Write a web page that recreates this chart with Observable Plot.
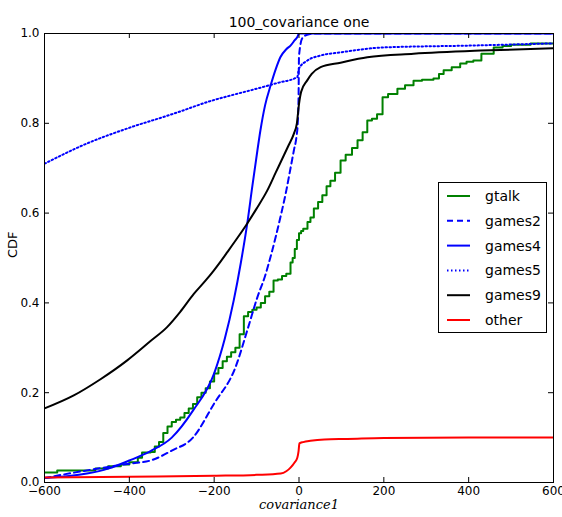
<!DOCTYPE html>
<html>
<head>
<meta charset="utf-8">
<script src="https://cdn.jsdelivr.net/npm/d3@7"></script>
<script src="https://cdn.jsdelivr.net/npm/@observablehq/plot@0.6"></script>
<style>
  body { margin: 0; background: #fff; }
  #wrap { position: relative; width: 562px; height: 517px; }
  #wrap svg { position: absolute; left: 0; top: 0; }
</style>
</head>
<body>
<div id="wrap"></div>
<script>
const title = "100_covariance one";
const xLabel = "covariance1";
const yLabel = "CDF";
const xTicks = [-600, -400, -200, 0, 200, 400, 600];
const yTicks = [0, 0.2, 0.4, 0.6, 0.8, 1.0];

const seriesNames = ["gtalk", "games2", "games4", "games5", "games9", "other"];
const seriesColors = ["#008000", "#0000ff", "#0000ff", "#0000ff", "#000000", "#ff0000"];
const seriesDash = [null, "6,4", null, "1.5,2.5", null, null];

const gtalkX = [-600,-570,-480,-450,-420,-400,-380,-370,-350,-340,-330,-320,-310,-300,-290,-280,-270,-260,-250,-240,-230,-220,-210,-200,-190,-180,-170,-160,-150,-140,-130,-120,-110,-100,-90,-80,-70,-60,-50,-40,-30,-20,-15,-10,-5,0,5,10,20,27,35,45,55,65,74,85,98,110,125,138,150,161,172,184,197,210,232,250,270,290,317,330,341,360,380,395,411,430,459,480,500,546,600];
const gtalkY = [0.022,0.027,0.031,0.036,0.04,0.045,0.055,0.067,0.068,0.08,0.09,0.11,0.125,0.135,0.14,0.145,0.155,0.165,0.175,0.19,0.2,0.21,0.225,0.243,0.255,0.27,0.28,0.29,0.30,0.33,0.37,0.38,0.385,0.39,0.40,0.415,0.425,0.45,0.452,0.46,0.465,0.49,0.50,0.52,0.54,0.555,0.56,0.565,0.58,0.59,0.61,0.625,0.64,0.66,0.672,0.69,0.717,0.73,0.745,0.762,0.78,0.806,0.81,0.82,0.858,0.865,0.877,0.885,0.895,0.897,0.9,0.91,0.918,0.925,0.933,0.937,0.94,0.955,0.969,0.972,0.975,0.978,0.978];

const games2X = [-600,-500,-400,-350,-300,-250,-200,-150,-120,-98,-80,-65,-44,-30,-20,-12,-6,-3,-1,0,8,19,35,600];
const games2Y = [0.01,0.027,0.042,0.049,0.071,0.10,0.176,0.256,0.345,0.413,0.46,0.51,0.59,0.65,0.70,0.74,0.77,0.80,0.86,0.95,0.99,0.997,1.0,1.0];

const games4X = [-600,-500,-450,-400,-350,-300,-250,-200,-175,-154,-137,-122,-110,-98,-91,-80,-67,-55,-44,-30,-20,-10,-4,0,600];
const games4Y = [0.01,0.02,0.031,0.049,0.07,0.10,0.16,0.243,0.32,0.405,0.49,0.577,0.66,0.74,0.784,0.84,0.884,0.92,0.947,0.965,0.973,0.985,0.992,1.0,1.0];

const games5X = [-600,-500,-400,-300,-200,-161,-100,-50,-4,0,20,51,98,200,400,600];
const games5Y = [0.71,0.755,0.79,0.82,0.852,0.862,0.877,0.89,0.903,0.922,0.94,0.951,0.958,0.969,0.973,0.978];

const games9X = [-600,-531,-468,-405,-350,-311,-280,-248,-220,-201,-185,-169,-145,-122,-100,-75,-55,-40,-25,-12,-5,0,5,19,30,51,98,161,270,428,600];
const games9Y = [0.165,0.194,0.23,0.272,0.315,0.346,0.38,0.42,0.45,0.472,0.492,0.513,0.545,0.577,0.61,0.65,0.69,0.72,0.75,0.777,0.8,0.843,0.87,0.895,0.91,0.925,0.935,0.947,0.955,0.962,0.967];

const otherX = [-600,-400,-200,-100,-43,-30,-20,-10,-4,-1,1,10,27,60,114,200,400,600];
const otherY = [0.011,0.013,0.015,0.017,0.02,0.025,0.033,0.045,0.055,0.07,0.087,0.09,0.093,0.096,0.097,0.099,0.1,0.1];

const seriesX = [gtalkX, games2X, games4X, games5X, games9X, otherX];
const seriesY = [gtalkY, games2Y, games4Y, games5Y, games9Y, otherY];
const seriesCurve = ["step-after", "monotone-x", "monotone-x", "monotone-x", "monotone-x", "monotone-x"];

const toRows = (xs, ys) => xs.map((x, i) => ({x, y: ys[i]}));

const font = "DejaVu Sans, sans-serif";
const lineMarks = seriesNames.map((name, i) =>
  Plot.line(toRows(seriesX[i], seriesY[i]), {
    x: "x", y: "y",
    stroke: seriesColors[i],
    strokeWidth: 2,
    strokeDasharray: seriesDash[i] || undefined,
    curve: seriesCurve[i],
    clip: true
  })
);

const chart = Plot.plot({
  width: 562,
  height: 517,
  marginLeft: 44,
  marginRight: 9,
  marginTop: 33,
  marginBottom: 35,
  style: {fontFamily: font, fontSize: "12px", color: "#000", background: "#fff"},
  x: {domain: [-600, 600]},
  y: {domain: [0, 1]},
  marks: [
    ...lineMarks,
    Plot.frame({stroke: "#000", strokeWidth: 1}),
    Plot.tickX(xTicks, {x: d => d, insetTop: 444, stroke: "#000"}),
    Plot.tickX(xTicks, {x: d => d, insetBottom: 444, stroke: "#000"}),
    Plot.tickY(yTicks, {y: d => d, insetLeft: 504, stroke: "#000"}),
    Plot.tickY(yTicks, {y: d => d, insetRight: 504, stroke: "#000"}),
    Plot.axisX({ticks: xTicks, tickSize: 0, tickPadding: 4, tickFormat: d3.format("d"), label: null, fontSize: 12}),
    Plot.axisY({ticks: yTicks, tickSize: 0, tickPadding: 5, tickFormat: d3.format(".1f"), label: null, fontSize: 12}),
    Plot.text([title], {frameAnchor: "top", dy: -16, fontSize: 14, fill: "#000"}),
    Plot.text([yLabel], {frameAnchor: "left", dx: -32, rotate: -90, fontSize: 13, fill: "#000"}),
    Plot.text([xLabel], {frameAnchor: "bottom", dy: 26, fontSize: 13, fontStyle: "italic", fontFamily: "DejaVu Serif, serif", fill: "#000"})
  ]
});

const wrap = document.getElementById("wrap");
wrap.appendChild(chart);

// Legend overlay built from the series arrays
const lg = d3.select(wrap).append("svg")
  .attr("width", 562).attr("height", 517)
  .style("pointer-events", "none");
const box = {x: 438.5, y: 182.5, w: 108, h: 150};
lg.append("rect").attr("x", box.x).attr("y", box.y).attr("width", box.w).attr("height", box.h)
  .attr("fill", "#fff").attr("stroke", "#000").attr("stroke-width", 1);
seriesNames.forEach((name, i) => {
  const cy = 196 + i * 24.8;
  lg.append("line").attr("x1", 447).attr("x2", 470).attr("y1", cy).attr("y2", cy)
    .attr("stroke", seriesColors[i]).attr("stroke-width", 2)
    .attr("stroke-dasharray", seriesDash[i]);
  lg.append("text").attr("x", 485).attr("y", cy).attr("dy", "0.35em")
    .attr("font-family", font).attr("font-size", 14).attr("fill", "#000").text(name);
});
</script>
</body>
</html>
